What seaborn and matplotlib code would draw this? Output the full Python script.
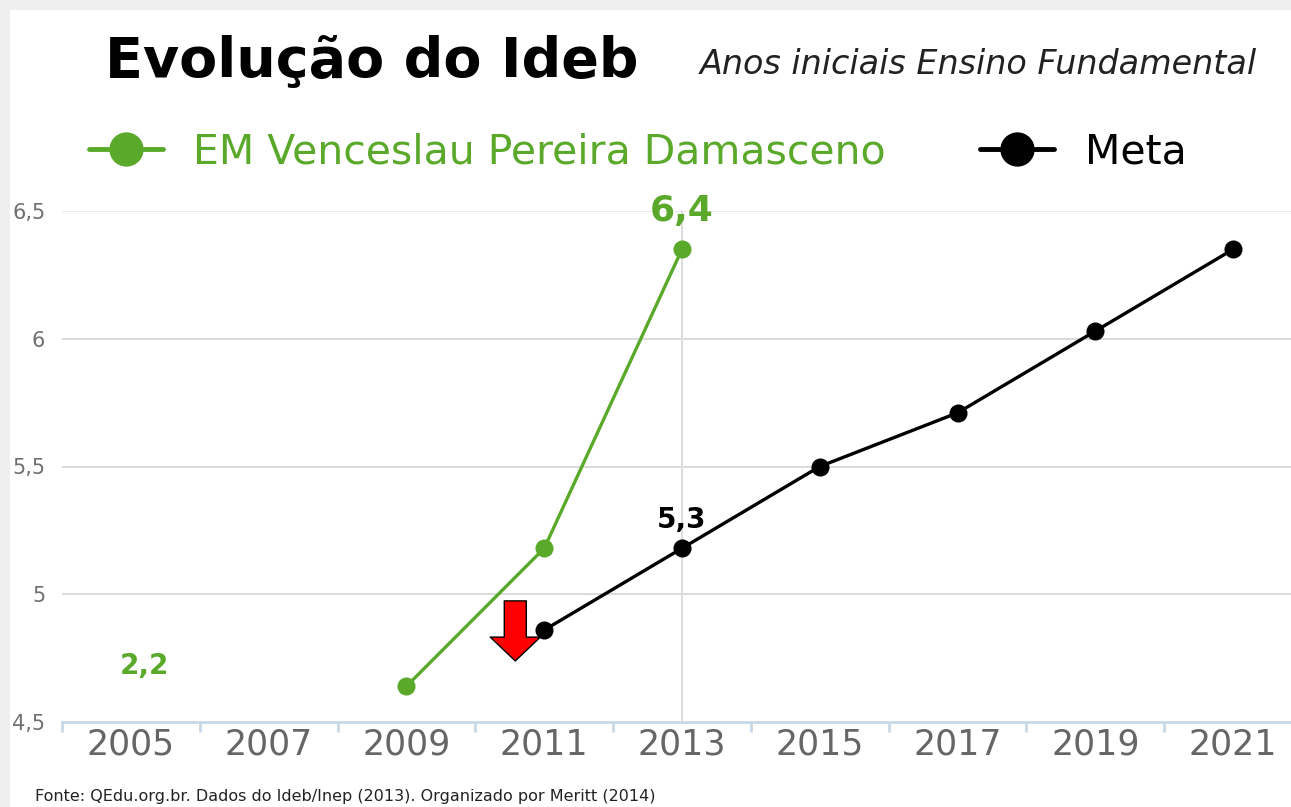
import pandas as pd
import numpy as np
import seaborn as sns
import matplotlib.pyplot as plt
from matplotlib.patches import Rectangle

# Data
anos = [2005, 2007, 2009, 2011, 2013, 2015, 2017, 2019, 2021]
escola_anos = [2009, 2011, 2013]
escola_vals = [4.64, 5.18, 6.35]
meta_anos = [2011, 2013, 2015, 2017, 2019, 2021]
meta_vals = [4.86, 5.18, 5.50, 5.71, 6.03, 6.35]
y_ticks = [4.5, 5, 5.5, 6, 6.5]
y_labels = ["4,5", "5", "5,5", "6", "6,5"]

escola_nome = "EM Venceslau Pereira Damasceno"
verde = "#5aa92b"

pos = {a: i for i, a in enumerate(anos)}
df = pd.concat([
    pd.DataFrame({"pos": [pos[a] for a in escola_anos], "valor": escola_vals, "serie": escola_nome}),
    pd.DataFrame({"pos": [pos[a] for a in meta_anos], "valor": meta_vals, "serie": "Meta"}),
])

sns.set_style("white")
plt.rcParams["font.family"] = ["DejaVu Sans"]

fig = plt.figure(figsize=(12.91, 8.07), dpi=100, facecolor="#efefef")
fig.patches.append(Rectangle((10 / 1291, 0), 1, 797 / 807, transform=fig.transFigure,
                             facecolor="white", edgecolor="none", zorder=-5))
ax = fig.add_axes([62 / 1291, 85 / 807, 1240 / 1291, 511 / 807])
ax.set_facecolor("none")
ax.set_zorder(2)

sns.lineplot(data=df, x="pos", y="valor", hue="serie", palette={escola_nome: verde, "Meta": "black"},
             marker="o", markersize=13, markeredgewidth=0, linewidth=2.4, ax=ax, zorder=3)

ax.set_xlim(-0.5, len(anos) - 0.5)
ax.set_ylim(4.5, 6.5)
ax.set_xlabel("")
ax.set_ylabel("")

# grid
for y in y_ticks[1:]:
    ax.axhline(y, color="#e9e9e9" if y == 6.5 else "#d8d8d8", lw=1.3, zorder=1)
ax.axvline(pos[2013], color="#dddddd", lw=1.5, zorder=1)

ax.set_yticks(y_ticks)
ax.set_yticklabels(y_labels, fontsize=15, color="#6f6f6f")
ax.set_xticks(range(len(anos)))
ax.set_xticklabels([str(a) for a in anos], fontsize=25, color="#666666")
ax.set_xticks(np.arange(-0.5, len(anos), 1), minor=True)
ax.tick_params(axis="y", length=0, pad=12)
ax.tick_params(axis="x", which="major", length=0, pad=4)
ax.tick_params(axis="x", which="minor", bottom=True, length=7, width=2, color="#c8d8e4", direction="out")
for s in ["top", "right", "left"]:
    ax.spines[s].set_visible(False)
ax.spines["bottom"].set_color("#c8d8e4")
ax.spines["bottom"].set_linewidth(2)

# value labels
ax.text(pos[2013], 6.5, "6,4", color=verde, fontsize=26, fontweight="bold", ha="center", va="center")
ax.text(pos[2013], 5.29, "5,3", color="black", fontsize=20, fontweight="bold", ha="center", va="center")
ax.text(pos[2005] + 0.1, 4.72, "2,2", color=verde, fontsize=20, fontweight="bold", ha="center", va="center")

# red arrow
ax.annotate("", xy=(2.79, 4.739), xytext=(2.79, 4.974),
            arrowprops=dict(arrowstyle="simple,head_width=1.64,head_length=0.78,tail_width=0.72",
                            fc="red", ec="black", lw=1, mutation_scale=22, shrinkA=0, shrinkB=0),
            zorder=4)

# legend
handles, labels = ax.get_legend_handles_labels()
if ax.get_legend():
    ax.get_legend().remove()
leg = fig.legend(handles, labels, ncol=2, loc="center left", bbox_to_anchor=(52 / 1291, 1 - 152 / 807),
                 frameon=False, markerscale=1.9, handlelength=1.8, handletextpad=0.75,
                 columnspacing=2.3, prop={"size": 29.5, "weight": "medium"})
for line in leg.get_lines():
    line.set_linewidth(3.5)
leg.get_texts()[0].set_color(verde)
leg.get_texts()[1].set_color("black")

# titles
fig.text(105 / 1291, 1 - 62 / 807, "Evolução do Ideb", fontsize=40, fontweight="bold",
         color="black", ha="left", va="center")
fig.text(1257 / 1291, 1 - 64 / 807, "Anos iniciais Ensino Fundamental", fontsize=24, style="italic",
         fontweight="light", color="#222222", ha="right", va="center")
fig.text(35 / 1291, 1 - 797 / 807, "Fonte: QEdu.org.br. Dados do Ideb/Inep (2013). Organizado por Meritt (2014)",
         fontsize=11.5, color="#222222", ha="left", va="center")

fig.savefig("out.png", dpi=100, facecolor=fig.get_facecolor())
